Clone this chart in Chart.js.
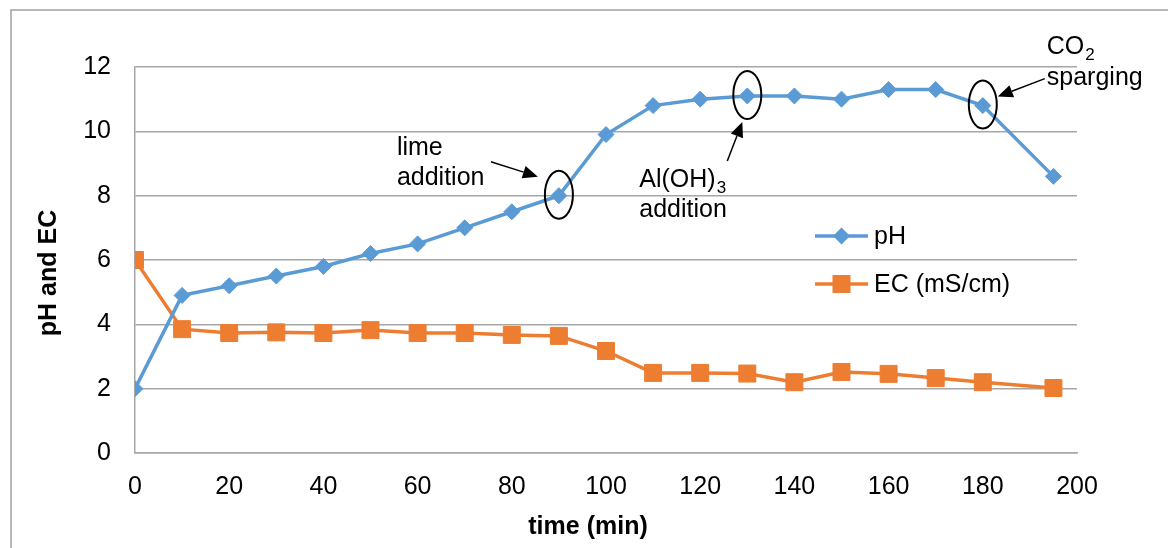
<!DOCTYPE html>
<html>
<head>
<meta charset="utf-8">
<script src="https://cdn.jsdelivr.net/npm/chart.js@4/dist/chart.umd.min.js"></script>
<style>
  html, body { margin: 0; padding: 0; background: #ffffff; }
  #wrap { width: 1168px; height: 548px; position: relative; }
</style>
</head>
<body>
<div id="wrap"><canvas id="c" width="1168" height="548"></canvas></div>
<script>
// Sampling times (min)
const timeMin = [0, 10, 20, 30, 40, 50, 60, 70, 80, 90, 100, 110, 120, 130, 140, 150, 160, 170, 180, 195];
// pH readings
const phValues = [2.0, 4.9, 5.2, 5.5, 5.8, 6.2, 6.5, 7.0, 7.5, 8.0, 9.9, 10.8, 11.0, 11.1, 11.1, 11.0, 11.3, 11.3, 10.8, 8.6];
// Electrical conductivity (mS/cm)
const ecValues = [6.0, 3.85, 3.73, 3.75, 3.73, 3.82, 3.73, 3.73, 3.67, 3.64, 3.17, 2.49, 2.49, 2.47, 2.2, 2.52, 2.46, 2.33, 2.2, 2.02];

const seriesLabels = ['pH', 'EC (mS/cm)'];
const xTicks = [0, 20, 40, 60, 80, 100, 120, 140, 160, 180, 200];
const yTicks = [0, 2, 4, 6, 8, 10, 12];

// Treatment steps marked on the pH curve: time of the step and its note
const stepTimes = [90, 130, 180];

const FONT = '"Liberation Sans", Arial, sans-serif';
const BLUE = '#5B9BD5';
const ORANGE = '#ED7D31';
const GRID = '#a6a6a6';

function toPoints(xs, ys) { return xs.map((x, i) => ({ x: x, y: ys[i] })); }

function arrow(ctx, x1, y1, x2, y2) {
  const ang = Math.atan2(y2 - y1, x2 - x1);
  const headL = 15, headW = 6.5;
  const bx = x2 - headL * Math.cos(ang), by = y2 - headL * Math.sin(ang);
  ctx.beginPath();
  ctx.moveTo(x1, y1);
  ctx.lineTo(bx, by);
  ctx.lineWidth = 1.5;
  ctx.strokeStyle = '#000';
  ctx.stroke();
  ctx.beginPath();
  ctx.moveTo(x2, y2);
  ctx.lineTo(bx + headW * Math.sin(ang), by - headW * Math.cos(ang));
  ctx.lineTo(bx - headW * Math.sin(ang), by + headW * Math.cos(ang));
  ctx.closePath();
  ctx.fillStyle = '#000';
  ctx.fill();
}

function textWithSub(ctx, main, sub, x, y) {
  ctx.font = '25px ' + FONT;
  ctx.fillText(main, x, y);
  const w = ctx.measureText(main).width;
  ctx.font = '17px ' + FONT;
  ctx.fillText(sub, x + w + 1, y + 6);
  ctx.font = '25px ' + FONT;
}

const decor = {
  id: 'decor',
  beforeDraw(chart) {
    const ctx = chart.ctx;
    ctx.save();
    ctx.fillStyle = '#fff';
    ctx.fillRect(0, 0, chart.width, chart.height);
    // outer chart frame
    ctx.strokeStyle = '#a0a0a0';
    ctx.lineWidth = 1.5;
    ctx.beginPath();
    ctx.moveTo(11, chart.height + 2);
    ctx.lineTo(11, 10);
    ctx.lineTo(chart.width + 2, 10);
    ctx.stroke();
    ctx.restore();
  },
  afterDatasetsDraw(chart) {
    const ctx = chart.ctx;
    const xs = chart.scales.x, ys = chart.scales.y;
    ctx.save();
    // ellipses around the marked pH readings
    stepTimes.forEach(t => {
      const i = timeMin.indexOf(t);
      const cx = xs.getPixelForValue(t), cy = ys.getPixelForValue(phValues[i]);
      ctx.beginPath();
      ctx.ellipse(cx, cy - 1, 14, 24, 0, 0, Math.PI * 2);
      ctx.lineWidth = 2;
      ctx.strokeStyle = '#000';
      ctx.stroke();
    });

    ctx.fillStyle = '#000';
    ctx.textBaseline = 'alphabetic';
    ctx.textAlign = 'left';
    ctx.font = '25px ' + FONT;

    // lime addition
    let px = xs.getPixelForValue(90), py = ys.getPixelForValue(8.0);
    ctx.fillText('lime', px - 162, py - 41);
    ctx.fillText('addition', px - 162, py - 11);
    arrow(ctx, px - 68, py - 34, px - 21, py - 19);

    // Al(OH)3 addition
    px = xs.getPixelForValue(130); py = ys.getPixelForValue(11.1);
    ctx.fillStyle = '#000';
    textWithSub(ctx, 'Al(OH)', '3', px - 108, py + 91);
    ctx.fillText('addition', px - 108, py + 121);
    arrow(ctx, px - 20, py + 65, px - 5, py + 26);

    // CO2 sparging
    px = xs.getPixelForValue(180); py = ys.getPixelForValue(10.8);
    ctx.fillStyle = '#000';
    textWithSub(ctx, 'CO', '2', px + 64, py - 52);
    ctx.fillText('sparging', px + 64, py - 21);
    arrow(ctx, px + 62, py - 27, px + 15, py - 9);

    ctx.restore();
  },
  afterDraw(chart) {
    const ctx = chart.ctx;
    ctx.save();
    // axis titles
    ctx.fillStyle = '#000';
    ctx.font = 'bold 25px ' + FONT;
    ctx.textAlign = 'center';
    ctx.textBaseline = 'middle';
    ctx.fillText('time (min)', 588, 527);
    ctx.translate(49, 273);
    ctx.rotate(-Math.PI / 2);
    ctx.fillText('pH and EC', 0, 0);
    ctx.restore();

    // legend
    ctx.save();
    const ds = chart.data.datasets;
    const lx = 815, lw = 53, rows = [236, 284];
    ds.forEach((d, k) => {
      const y = rows[k];
      ctx.strokeStyle = d.borderColor;
      ctx.lineWidth = 3.5;
      ctx.beginPath();
      ctx.moveTo(lx, y);
      ctx.lineTo(lx + lw, y);
      ctx.stroke();
      ctx.fillStyle = d.borderColor;
      const cx = lx + lw / 2;
      ctx.beginPath();
      if (d.pointStyle === 'rectRot') {
        const r = 8.5;
        ctx.moveTo(cx, y - r); ctx.lineTo(cx + r, y); ctx.lineTo(cx, y + r); ctx.lineTo(cx - r, y);
        ctx.closePath();
      } else {
        ctx.rect(cx - 9, y - 9, 18, 18);
      }
      ctx.fill();
      ctx.fillStyle = '#000';
      ctx.font = '25px ' + FONT;
      ctx.textAlign = 'left';
      ctx.textBaseline = 'middle';
      ctx.fillText(d.label, lx + lw + 6, y + 1);
    });
    ctx.restore();
  }
};

new Chart(document.getElementById('c'), {
  type: 'line',
  data: {
    datasets: [
      {
        label: seriesLabels[0],
        data: toPoints(timeMin, phValues),
        borderColor: BLUE,
        backgroundColor: BLUE,
        borderWidth: 3.5,
        pointStyle: 'rectRot',
        pointRadius: 8,
        pointBorderWidth: 1,
        tension: 0
      },
      {
        label: seriesLabels[1],
        data: toPoints(timeMin, ecValues),
        borderColor: ORANGE,
        backgroundColor: ORANGE,
        borderWidth: 3.5,
        pointStyle: 'rect',
        pointRadius: 12,
        pointBorderWidth: 1,
        tension: 0
      }
    ]
  },
  options: {
    responsive: false,
    animation: false,
    devicePixelRatio: 1,
    layout: { padding: { top: 67, right: 91, left: 0, bottom: 0 } },
    plugins: { legend: { display: false }, tooltip: { enabled: false } },
    scales: {
      x: {
        type: 'linear',
        min: 0, max: 200,
        afterBuildTicks: s => { s.ticks = xTicks.map(v => ({ value: v })); },
        afterFit: s => { s.height = 95; },
        grid: { display: false, drawTicks: false },
        border: { display: true, color: GRID, width: 1.5 },
        ticks: { color: '#000', font: { size: 25, family: FONT }, padding: 19, maxRotation: 0, autoSkip: false }
      },
      y: {
        min: 0, max: 12,
        afterBuildTicks: s => { s.ticks = yTicks.map(v => ({ value: v })); },
        afterFit: s => { s.width = 135; },
        grid: { color: GRID, lineWidth: 1.5, drawTicks: false },
        border: { display: true, color: GRID, width: 1.5 },
        ticks: { color: '#000', font: { size: 25, family: FONT }, padding: 24 }
      }
    }
  },
  plugins: [decor]
});
</script>
</body>
</html>
